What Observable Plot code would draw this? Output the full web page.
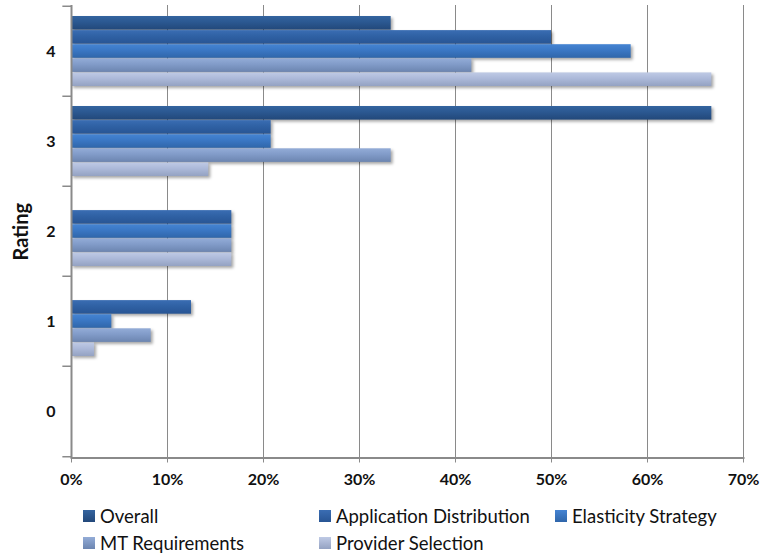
<!DOCTYPE html>
<html>
<head>
<meta charset="utf-8">
<script src="https://cdn.jsdelivr.net/npm/d3@7"></script>
<script src="https://cdn.jsdelivr.net/npm/@observablehq/plot@0.6"></script>
<style>
  html, body { margin: 0; padding: 0; background: #fff; }
  body { width: 761px; font-family: Lato, "Liberation Sans", sans-serif; }
  #legend { display: grid; grid-template-columns: 236px 236px 236px; padding-left: 83px; padding-top: 3px; }
  .item { display: flex; align-items: center; height: 26.5px; font-size: 18.5px; color: #111; white-space: nowrap; }
  .sw { width: 12px; height: 12px; margin-right: 5px; }
  .bars { filter: drop-shadow(2px 2px 1.5px rgba(0,0,0,0.35)); }
</style>
</head>
<body>
<div id="chart"></div>
<div id="legend"></div>
<script>
// ---- data ----
const ratings = [4, 3, 2, 1, 0];
const seriesNames = ["Overall", "Application Distribution", "Elasticity Strategy", "MT Requirements", "Provider Selection"];
// values per rating, in the order of `ratings` (4, 3, 2, 1, 0)
const overall     = [0.333, 0.667, 0,     0,     0];
const appDist     = [0.500, 0.208, 0.167, 0.125, 0];
const elasticity  = [0.583, 0.208, 0.167, 0.042, 0];
const mtReq       = [0.417, 0.333, 0.167, 0.083, 0];
const provider    = [0.667, 0.143, 0.167, 0.024, 0];
const xTicks = [0, 0.1, 0.2, 0.3, 0.4, 0.5, 0.6, 0.7];
const gradients = [
  ["#34649f", "#2b5891", "#22487a"],
  ["#3a6db3", "#2f61a4", "#285594"],
  ["#4584d3", "#3a77c4", "#2f66aa"],
  ["#93acd7", "#819bc8", "#6c85b0"],
  ["#bfcae5", "#acb9d9", "#94a2c2"]
];

const allValues = [overall, appDist, elasticity, mtReq, provider];

// ---- layout ----
const W = 761, H = 500;
const mTop = 5, mBottom = 42.5, mLeft = 71, mRight = 18;
const band = (H - mTop - mBottom) / ratings.length;
const groupPad = 10;
const slot = (band - 2 * groupPad) / seriesNames.length;

const barMarks = allValues.map((vals, i) => {
  const rows = ratings.map((r, j) => ({rating: r, value: vals[j], series: seriesNames[i]}))
    .filter(d => d.value > 0);
  return Plot.barX(rows, {
    y: "rating",
    x: "value",
    fill: `url(#grad${i})`,
    insetTop: groupPad + i * slot,
    insetBottom: band - groupPad - (i + 1) * slot,
    className: "bars"
  });
});

const axisGray = "#8a8a8a";

const chart = Plot.plot({
  width: W,
  height: H,
  marginTop: mTop,
  marginBottom: mBottom,
  marginLeft: mLeft,
  marginRight: mRight,
  style: { fontFamily: "Lato, 'Liberation Sans', sans-serif", color: "#111", background: "#fff" },
  x: { domain: [0, 0.7] },
  y: { domain: ratings, padding: 0 },
  marks: [
    Plot.gridX(xTicks, { stroke: axisGray, strokeOpacity: 1, strokeWidth: 1 }),
    ...barMarks,
    Plot.ruleX([0], { stroke: axisGray, strokeWidth: 2 }),
    Plot.frame({ anchor: "bottom", stroke: axisGray, strokeWidth: 2 }),
    Plot.ruleY(ratings, { y: d => d, x1: -0.009, x2: 0, dy: -band / 2, stroke: axisGray, strokeWidth: 1.5 }),
    Plot.ruleY([0], { y: d => d, x1: -0.009, x2: 0, dy: band / 2, stroke: axisGray, strokeWidth: 1.5 }),
    Plot.axisX(xTicks, {
      tickFormat: d3.format(".0%"),
      tickSize: 5,
      tickPadding: 11,
      stroke: axisGray,
      fontSize: 16,
      fontWeight: "bold",
      label: null
    }),
    Plot.axisY({
      tickSize: 0,
      tickPadding: 16,
      fontSize: 16,
      fontWeight: "bold",
      label: null
    }),
    Plot.text(["Rating"], {
      frameAnchor: "left",
      textAnchor: "middle",
      rotate: -90,
      dx: -50,
      fontSize: 20,
      fontWeight: "bold",
      fill: "#111"
    })
  ]
});

// gradient definitions for the bar fills
const svg = d3.select(chart.tagName === "svg" ? chart : chart.querySelector("svg"));
const defs = svg.insert("defs", ":first-child");
gradients.forEach((g, i) => {
  const lg = defs.append("linearGradient")
    .attr("id", `grad${i}`)
    .attr("x1", 0).attr("y1", 0).attr("x2", 0).attr("y2", 1);
  lg.append("stop").attr("offset", "0%").attr("stop-color", g[0]);
  lg.append("stop").attr("offset", "45%").attr("stop-color", g[1]);
  lg.append("stop").attr("offset", "100%").attr("stop-color", g[2]);
});

document.getElementById("chart").appendChild(chart);

// legend
const legend = document.getElementById("legend");
seriesNames.forEach((name, i) => {
  const item = document.createElement("div");
  item.className = "item";
  const sw = document.createElement("span");
  sw.className = "sw";
  sw.style.background = `linear-gradient(${gradients[i][0]}, ${gradients[i][2]})`;
  item.appendChild(sw);
  item.appendChild(document.createTextNode(name));
  legend.appendChild(item);
});
</script>
</body>
</html>
